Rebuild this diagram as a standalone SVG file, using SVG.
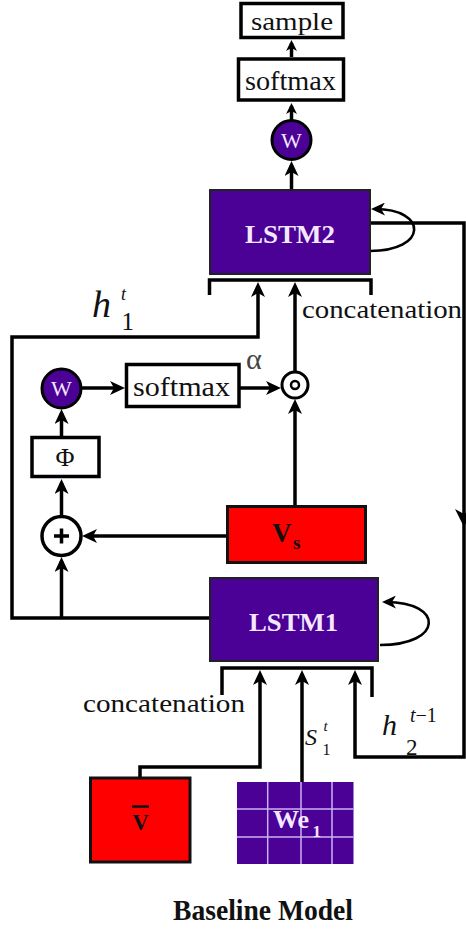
<svg xmlns="http://www.w3.org/2000/svg" width="466" height="930" viewBox="0 0 466 930">
<style>
  .txt { font-family: "Liberation Serif", "Times New Roman", serif; fill: #111; }
  .box { fill: #fff; stroke: #000; stroke-width: 3.5; }
  .lstm { fill: #4B0096; stroke: #222; stroke-width: 2; }
  .red { fill: #FF0000; stroke: #111; stroke-width: 3; }
  .wc { fill: #4B0096; stroke: #000; stroke-width: 3; }
  .lt { font-family: "Liberation Serif", "Times New Roman", serif; fill: #F3E8FF; }
  .conn { fill: none; stroke: #000; stroke-width: 3.5; }
  .loop { fill: none; stroke: #000; stroke-width: 2.6; }
  .head { fill: #000; }
</style>
<defs>
  <marker id="ah" markerUnits="userSpaceOnUse" markerWidth="15" markerHeight="14" refX="11" refY="7" orient="auto">
    <path d="M0,0 L15,7 L0,14 L4,7 z" fill="#000"/>
  </marker>
  <marker id="ahs" markerUnits="userSpaceOnUse" markerWidth="11" markerHeight="11" refX="8" refY="5.5" orient="auto">
    <path d="M0,0 L11,5.5 L0,11 L3,5.5 z" fill="#000"/>
  </marker>
  <marker id="ahl" markerUnits="userSpaceOnUse" markerWidth="14" markerHeight="13" refX="10" refY="6.5" orient="auto">
    <path d="M0,0 L14,6.5 L0,13 L4,6.5 z" fill="#000"/>
  </marker>
</defs>

<g id="connectors">
  <path class="conn" d="M291.5,57 V43" marker-end="url(#ahs)"/>
  <path class="conn" d="M291.5,120 V106" marker-end="url(#ahs)"/>
  <path class="conn" d="M291.5,190 V165" marker-end="url(#ah)"/>
  <path class="loop" d="M370,251 C428,251 428,209 375,209" marker-end="url(#ahl)"/>
  <path class="conn" d="M370,223 H464 V757 H355 V674" marker-end="url(#ah)"/>
  <path class="head" d="M455,509 L464,527 L473,509 L464,514 z"/>
  <path class="conn" d="M209.5,295 V280 H371 V295"/>
  <path class="conn" d="M209,618 H12 V337 H258 V286" marker-end="url(#ah)"/>
  <path class="conn" d="M295,372 V286" marker-end="url(#ah)"/>
  <path class="conn" d="M81,388 H121" marker-end="url(#ah)"/>
  <path class="conn" d="M239,388 H277" marker-end="url(#ah)"/>
  <path class="conn" d="M295,506 V403" marker-end="url(#ah)"/>
  <path class="conn" d="M61.5,437 V413" marker-end="url(#ah)"/>
  <path class="conn" d="M61.5,516 V483" marker-end="url(#ah)"/>
  <path class="conn" d="M227,536 H86" marker-end="url(#ah)"/>
  <path class="conn" d="M61.5,618 V561" marker-end="url(#ah)"/>
  <path class="loop" d="M380,645 C444,645 444,602 386,602" marker-end="url(#ahl)"/>
  <path class="conn" d="M222,695 V668 H372 V697"/>
  <path class="conn" d="M140,777 V767 H260 V674" marker-end="url(#ah)"/>
  <path class="conn" d="M302,782 V674" marker-end="url(#ah)"/>
</g>

<g id="sample">
  <rect class="box" x="241" y="3.5" width="102" height="34"/>
  <text class="txt" x="251" y="30" font-size="26" textLength="82" lengthAdjust="spacingAndGlyphs">sample</text>
</g>
<g id="softmax-top">
  <rect class="box" x="238.5" y="59" width="105" height="41"/>
  <text class="txt" x="245" y="90" font-size="27" textLength="91" lengthAdjust="spacingAndGlyphs">softmax</text>
</g>
<g id="w-top">
  <circle class="wc" cx="291.5" cy="140" r="19.5"/>
  <text class="lt" x="291.5" y="147.5" font-size="22" text-anchor="middle">W</text>
</g>
<g id="lstm2">
  <rect class="lstm" x="210" y="190" width="160" height="84"/>
  <text class="lt" x="245" y="243" font-size="26" font-weight="bold" textLength="90" lengthAdjust="spacingAndGlyphs">LSTM2</text>
</g>
<g id="concat-top">
  <text class="txt" x="302" y="318" font-size="26" textLength="160" lengthAdjust="spacingAndGlyphs">concatenation</text>
</g>
<g id="h1t">
  <text class="txt" x="92" y="317" font-size="38" font-style="italic">h</text>
  <text class="txt" x="121" y="300" font-size="18" font-style="italic">t</text>
  <text class="txt" x="121.5" y="330" font-size="25">1</text>
</g>
<g id="w-left">
  <circle class="wc" cx="61.5" cy="388.5" r="19.5"/>
  <text class="lt" x="61.5" y="396" font-size="22" text-anchor="middle">W</text>
</g>
<g id="softmax-mid">
  <rect class="box" x="126.5" y="364.5" width="112.5" height="42"/>
  <text class="txt" x="133" y="396" font-size="27" textLength="97" lengthAdjust="spacingAndGlyphs">softmax</text>
</g>
<g id="alpha">
  <text class="txt" x="246" y="369" font-size="30" style="fill:#444">α</text>
</g>
<g id="odot">
  <circle cx="295" cy="385" r="13" fill="#fff" stroke="#000" stroke-width="3"/>
  <circle cx="295" cy="385" r="4" fill="none" stroke="#000" stroke-width="2.5"/>
</g>
<g id="phi">
  <rect class="box" x="32" y="437.5" width="67" height="39"/>
  <text class="txt" x="65" y="466" font-size="26" text-anchor="middle">Φ</text>
</g>
<g id="plus">
  <circle cx="61.5" cy="536" r="19.5" fill="#fff" stroke="#000" stroke-width="3.5"/>
  <path d="M54,536 H69 M61.5,528.5 V543.5" stroke="#000" stroke-width="3.5" fill="none"/>
</g>
<g id="vs">
  <rect class="red" x="227.5" y="506.5" width="138" height="56"/>
  <text class="txt" x="272" y="542" font-size="27" font-weight="bold">V</text>
  <text class="txt" x="293" y="549" font-size="19" font-weight="bold">s</text>
</g>
<g id="lstm1">
  <rect class="lstm" x="210" y="578" width="168" height="83"/>
  <text class="lt" x="249" y="631" font-size="26" font-weight="bold" textLength="89" lengthAdjust="spacingAndGlyphs">LSTM1</text>
</g>
<g id="concat-bottom">
  <text class="txt" x="83" y="712" font-size="26" textLength="162" lengthAdjust="spacingAndGlyphs">concatenation</text>
</g>
<g id="s1t">
  <text class="txt" x="305" y="745" font-size="24" font-style="italic">S</text>
  <text class="txt" x="323.5" y="731" font-size="15" font-style="italic">t</text>
  <text class="txt" x="322.5" y="755" font-size="16">1</text>
</g>
<g id="h2t1">
  <text class="txt" x="382" y="735" font-size="30" font-style="italic">h</text>
  <text class="txt" x="410" y="721.5" font-size="20"><tspan font-style="italic">t</tspan>−1</text>
  <text class="txt" x="406" y="755" font-size="23">2</text>
</g>
<g id="vbar">
  <rect class="red" x="90.5" y="778" width="99.5" height="84"/>
  <line x1="132" y1="806.5" x2="149" y2="806.5" stroke="#111" stroke-width="2.5"/>
  <text class="txt" x="140.5" y="830" font-size="23" font-weight="bold" text-anchor="middle">V</text>
</g>
<g id="we1">
  <rect x="237" y="782" width="116.5" height="82" fill="#4B0096"/>
  <path d="M267.7,782 V864 M301,782 V864 M332,782 V864 M237,809 H353.5 M237,837 H353.5" stroke="#C9B2F2" stroke-width="1.5" fill="none"/>
  <text class="lt" x="273" y="828" font-size="26" font-weight="bold">We</text>
  <text class="lt" x="312.5" y="837" font-size="17" font-weight="bold">1</text>
</g>
<g id="caption">
  <text class="txt" x="173" y="920" font-size="29" font-weight="bold" textLength="180" lengthAdjust="spacingAndGlyphs">Baseline Model</text>
</g>
</svg>
